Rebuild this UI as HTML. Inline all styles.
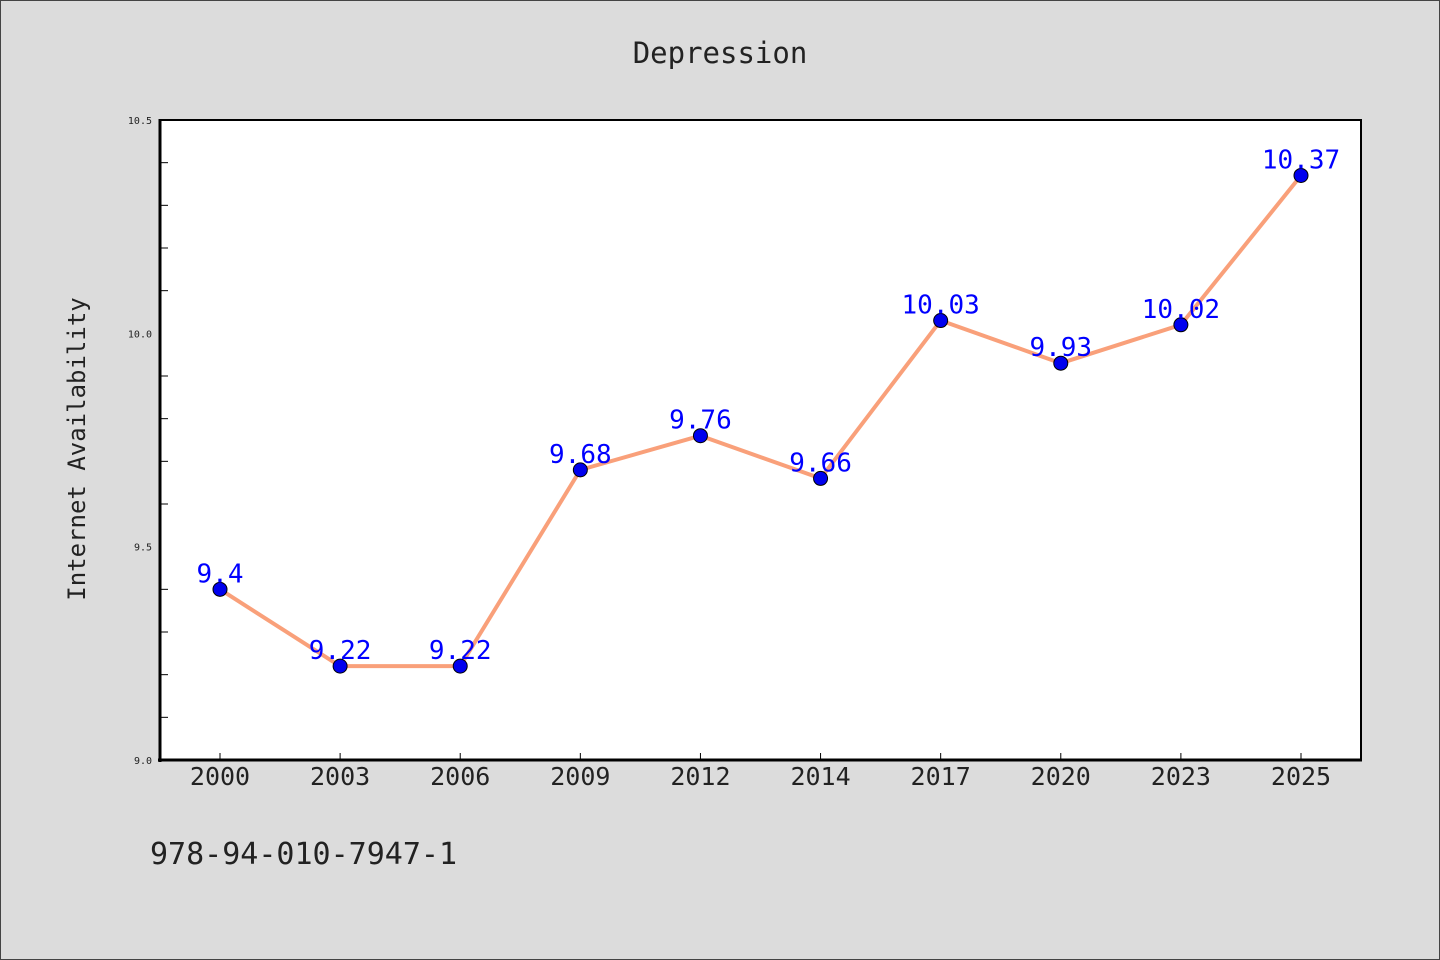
<!DOCTYPE html>
<html><head><meta charset="utf-8"><style>
html,body{margin:0;padding:0;background:#dcdcdc;}
svg{display:block;font-family:"DejaVu Sans Mono","Liberation Mono",monospace;}
</style></head><body>
<svg id="chart" width="1440" height="960" xmlns="http://www.w3.org/2000/svg">
<rect x="0.5" y="0.5" width="1439" height="959" fill="#dcdcdc" stroke="#444"/>
<text x="720" y="63" text-anchor="middle" font-size="29" fill="#222">Depression</text>
<rect x="160" y="120" width="1201" height="640" fill="#fff"/>
<g id="grid"></g>
<g id="series"></g>
<path d="M160,120 H1361 V760" fill="none" stroke="#000" stroke-width="2"/>
<line x1="160" y1="119" x2="160" y2="762" stroke="#000" stroke-width="3"/>
<line x1="158" y1="760" x2="1362" y2="760" stroke="#000" stroke-width="3"/>
<text transform="translate(85,449) rotate(-90)" text-anchor="middle" font-size="24" fill="#222">Internet Availability</text>
<text x="150" y="864" font-size="30" fill="#222">978-94-010-7947-1</text>
</svg>
<script>
const categories=["2000","2003","2006","2009","2012","2014","2017","2020","2023","2025"];
const values=[9.4,9.22,9.22,9.68,9.76,9.66,10.03,9.93,10.02,10.37];
const yTickLabels=["9.0","9.5","10.0","10.5"];
const yMin=9.0,yMax=10.5;
const NS="http://www.w3.org/2000/svg";
const X0=160,X1=1361,Y0=760,Y1=120;
function xs(i){return X0+60+i*(X1-X0-120)/(categories.length-1);}
function ys(v){return Y0-(v-yMin)/(yMax-yMin)*(Y0-Y1);}
function mk(tag,attrs,parent){const e=document.createElementNS(NS,tag);for(const k in attrs)e.setAttribute(k,attrs[k]);parent.appendChild(e);return e;}
const g=document.getElementById('grid'),s=document.getElementById('series');
for(let k=1;k<15;k++){const v=yMin+k*0.1;if(k%5===0)continue;
 const t=mk('line',{x1:X0,x2:X0+8,y1:ys(v),y2:ys(v),stroke:'#000','stroke-width':1},g);
 
 }
yTickLabels.forEach(l=>{const t=mk('text',{x:X0-8,y:ys(parseFloat(l))+4,'text-anchor':'end','font-size':10,fill:'#222'},g);t.textContent=l;
 
 });
categories.forEach((c,i)=>{const t=mk('line',{x1:xs(i),x2:xs(i),y1:Y0,y2:Y0-7,stroke:'#000','stroke-width':1},g);
 
 
 const l=mk('text',{x:xs(i),y:Y0+25,'text-anchor':'middle','font-size':25,fill:'#222'},g);l.textContent=c;
 
 });
const line=mk('polyline',{points:values.map((v,i)=>xs(i)+','+ys(v)).join(' '),fill:'none',stroke:'#f9a07a','stroke-width':4,'stroke-linejoin':'round'},s);


values.forEach((v,i)=>{const c=mk('circle',{cx:xs(i),cy:ys(v),r:7,fill:'#0000ee',stroke:'#000','stroke-width':1},s);
 
 
 const t=mk('text',{x:xs(i),y:ys(v)-7,'text-anchor':'middle','font-size':26,fill:'#0000ff'},s);t.textContent=String(v);
 
 });
</script>
</body></html>
